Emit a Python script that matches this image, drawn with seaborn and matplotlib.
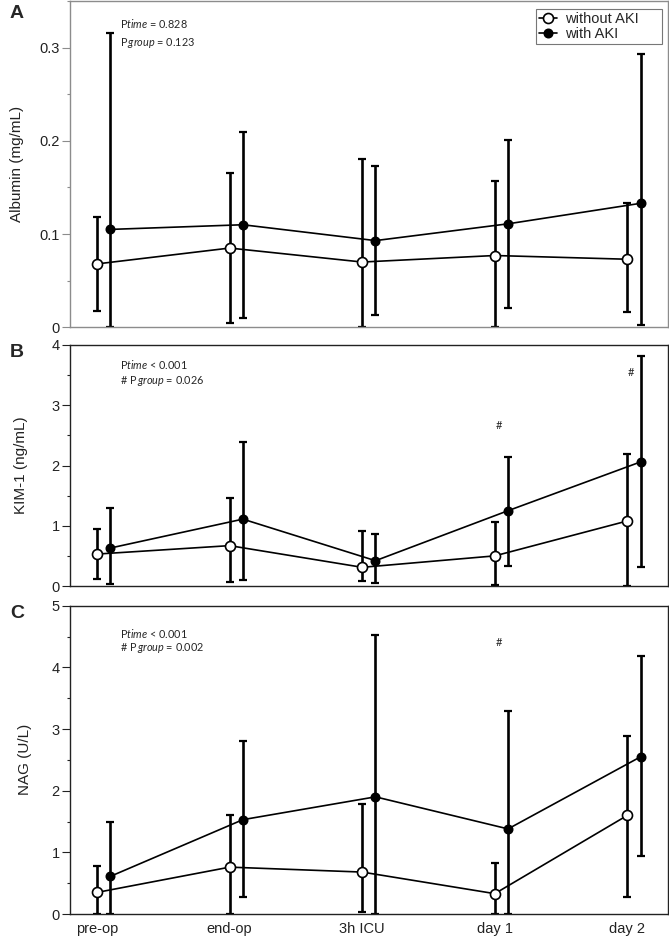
import numpy as np
import pandas as pd
import matplotlib
matplotlib.use("Agg")
import matplotlib.pyplot as plt
import seaborn as sns
from matplotlib.ticker import MultipleLocator, FuncFormatter

# ---------------- data ----------------
times = ["pre-op", "end-op", "3h ICU", "day 1", "day 2"]
groups = ["without AKI", "with AKI"]

alb_no_mean = [0.068, 0.085, 0.070, 0.077, 0.073]
alb_no_lo = [0.018, 0.005, 0.000, 0.000, 0.016]
alb_no_hi = [0.118, 0.165, 0.180, 0.157, 0.133]
alb_aki_mean = [0.105, 0.110, 0.093, 0.111, 0.133]
alb_aki_lo = [0.000, 0.010, 0.013, 0.021, 0.003]
alb_aki_hi = [0.316, 0.210, 0.173, 0.201, 0.293]

kim_no_mean = [0.53, 0.67, 0.31, 0.50, 1.08]
kim_no_lo = [0.11, 0.07, 0.08, 0.02, 0.00]
kim_no_hi = [0.95, 1.46, 0.92, 1.07, 2.19]
kim_aki_mean = [0.63, 1.11, 0.42, 1.25, 2.06]
kim_aki_lo = [0.03, 0.10, 0.05, 0.33, 0.32]
kim_aki_hi = [1.30, 2.39, 0.87, 2.14, 3.82]

nag_no_mean = [0.35, 0.76, 0.68, 0.33, 1.60]
nag_no_lo = [0.00, 0.00, 0.03, 0.00, 0.27]
nag_no_hi = [0.78, 1.60, 1.78, 0.83, 2.88]
nag_aki_mean = [0.61, 1.53, 1.90, 1.38, 2.55]
nag_aki_lo = [0.00, 0.27, 0.00, 0.00, 0.94]
nag_aki_hi = [1.50, 2.80, 4.53, 3.30, 4.18]

panel_letters = ["A", "B", "C"]
ylabels = ["Albumin (mg/mL)", "KIM-1 (ng/mL)", "NAG (U/L)"]
annot_lines = [
    [r"P$\mathit{time}$ = 0.828", r"P$\,\mathit{group}$ = 0.123"],
    [r"P$\mathit{time}$ < 0.001", r"# P$\,\mathit{group}$ = 0.026"],
    [r"P$\mathit{time}$ < 0.001", r"# P$\,\mathit{group}$ = 0.002"],
]
# significance marks: (time index, y value)
kim_hash = [(3, 2.66), (4, 3.55)]
nag_hash = [(3, 4.40)]

# ---------------- style ----------------
sns.set_style("ticks")
plt.rcParams["font.family"] = ["Liberation Sans", "DejaVu Sans"]
plt.rcParams["mathtext.fontset"] = "custom"
plt.rcParams["mathtext.rm"] = "Lato"
plt.rcParams["mathtext.it"] = "Lato:italic"

fig = plt.figure(figsize=(6.69, 9.41), dpi=100)
W, H = 669.0, 941.0
left = 70 / W
width = (667.7 - 70) / W
boxes = [(1, 327.3), (345, 586), (605.7, 914)]
axes = [fig.add_axes([left, 1 - b / H, width, (b - t) / H]) for t, b in boxes]

panels = [
    (alb_no_mean, alb_no_lo, alb_no_hi, alb_aki_mean, alb_aki_lo, alb_aki_hi),
    (kim_no_mean, kim_no_lo, kim_no_hi, kim_aki_mean, kim_aki_lo, kim_aki_hi),
    (nag_no_mean, nag_no_lo, nag_no_hi, nag_aki_mean, nag_aki_lo, nag_aki_hi),
]
ylims = [(0, 0.35), (0, 4), (0, 5)]
majors = [0.1, 1, 1]
minors = [0.05, 0.5, 0.5]
spine_cols = ["#8c8c8c", "#222222", "#222222"]
label_x = [-0.077, -0.071, -0.064]
offset = 0.1
xpos = np.arange(len(times))

for i, ax in enumerate(axes):
    no_m, no_lo, no_hi, ak_m, ak_lo, ak_hi = panels[i]
    df = pd.DataFrame({
        "x": np.concatenate([xpos, xpos + offset]),
        "value": no_m + ak_m,
        "lo": no_lo + ak_lo,
        "hi": no_hi + ak_hi,
        "group": [groups[0]] * len(times) + [groups[1]] * len(times),
    })
    for g, face, ms in [(groups[0], "white", 7.2), (groups[1], "black", 6)]:
        sub = df[df["group"] == g]
        yerr = [sub["value"] - sub["lo"], sub["hi"] - sub["value"]]
        ax.errorbar(sub["x"], sub["value"], yerr=yerr, fmt="none", ecolor="black",
                    elinewidth=1.9, capsize=2.6, capthick=1.6, zorder=2)
        sns.lineplot(data=sub, x="x", y="value", ax=ax, color="black", lw=1.2,
                     marker="o", markersize=ms, markerfacecolor=face,
                     markeredgecolor="black", markeredgewidth=1.2,
                     label=g, legend=False, zorder=3, sort=False)

    ax.set_xlim(-0.204, 4.304)
    ax.set_ylim(*ylims[i])
    ax.yaxis.set_major_locator(MultipleLocator(majors[i]))
    ax.yaxis.set_minor_locator(MultipleLocator(minors[i]))
    if i == 0:
        ax.yaxis.set_major_formatter(FuncFormatter(lambda v, p: "0" if abs(v) < 1e-9 else f"{v:.1f}"))
    ax.tick_params(axis="y", which="major", length=5.5, width=0.8, pad=2,
                   labelsize=10.5, color=spine_cols[i], labelcolor="#222222")
    ax.tick_params(axis="y", which="minor", length=2.5, width=0.8, color=spine_cols[i])
    ax.set_xticks(xpos)
    if i == 2:
        ax.set_xticklabels(times)
        ax.tick_params(axis="x", length=0, pad=6, labelsize=10.5, labelcolor="#222222")
    else:
        ax.set_xticklabels([])
        ax.tick_params(axis="x", length=0)
    ax.set_xlabel("")
    ax.set_ylabel(ylabels[i], fontsize=11, color="#222222")
    ax.yaxis.set_label_coords(label_x[i], 0.5)
    for s in ax.spines.values():
        s.set_visible(True)
        s.set_color(spine_cols[i])
        s.set_linewidth(1.0)

    # annotations
    ax.text(0.084, [0.93, 0.92, 0.91][i], annot_lines[i][0], transform=ax.transAxes,
            fontsize=7.8, family="Lato", va="center", ha="left")
    ax.text(0.084, [0.871, 0.852, 0.862][i], annot_lines[i][1], transform=ax.transAxes,
            fontsize=7.8, family="Lato", va="center", ha="left")

    # panel letter
    fig.text(17 / W, 1 - [14, 353, 613][i] / H, panel_letters[i], fontsize=14,
             fontweight="bold", ha="center", va="center")

for (ti, yv) in kim_hash:
    axes[1].text(xpos[ti] + 0.03, yv, "#", fontsize=8, family="Lato", ha="center", va="center")
for (ti, yv) in nag_hash:
    axes[2].text(xpos[ti] + 0.03, yv, "#", fontsize=8, family="Lato", ha="center", va="center")

leg = axes[0].legend(loc="upper left", bbox_to_anchor=(0.779, 0.872, 0.211, 0.103),
                     mode="expand", borderaxespad=0,
                     fontsize=10.5, frameon=True, fancybox=False, edgecolor="#555555",
                     handlelength=1.25, handletextpad=0.6, labelspacing=0.05,
                     borderpad=0.2)
leg.get_frame().set_linewidth(0.8)

fig.savefig("out.png", dpi=100)
